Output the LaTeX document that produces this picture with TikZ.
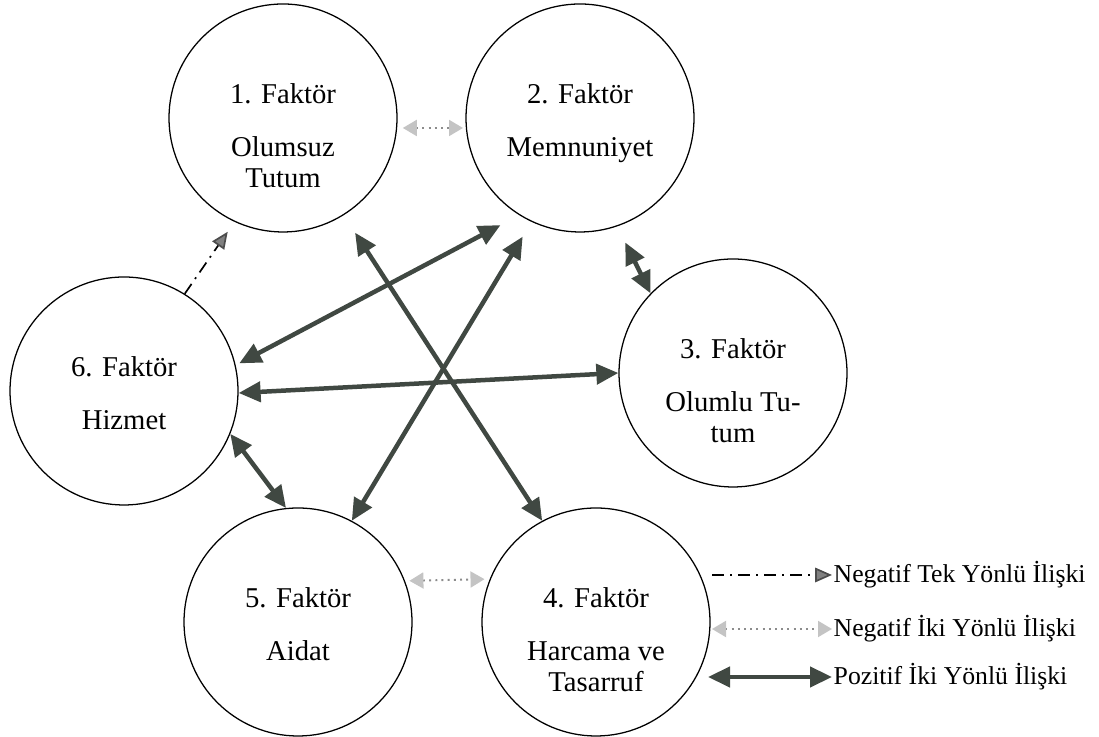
\documentclass[tikz,border=0pt]{standalone}
\usepackage{fontspec}
\setmainfont{Liberation Serif}
\usepackage{tikz}
\usetikzlibrary{arrows.meta,positioning}
\definecolor{pozgri}{RGB}{64,72,66}
\definecolor{neggri}{RGB}{196,196,196}
\definecolor{noktagri}{RGB}{140,140,140}
\tikzset{
    faktor/.style={draw, circle, minimum size=5.7cm, line width=0.9pt},
    ftext/.style={align=center, inner sep=0pt, font=\fontsize{20.4}{22}\selectfont},
    pozitif/.style={{Triangle[length=5.5mm, width=5mm]}-{Triangle[length=5.5mm, width=5mm]}, line width=3.2pt, pozgri},
    negatif/.style={{Triangle[length=3.5mm, width=4mm, fill=neggri, color=neggri]}-{Triangle[length=3.5mm, width=4mm, fill=neggri, color=neggri]}, line width=1.4pt, noktagri, dash pattern=on 1.4pt off 3pt},
    tekyon/.style={-{Triangle[length=4.2mm, width=3.6mm, fill=gray, color=black!70]}, line width=1.2pt, dash pattern=on 8.5pt off 4.3pt on 1.4pt off 4.3pt},
    legend/.style={anchor=west, inner sep=1pt, font=\fontsize{18.3}{20}\selectfont}
}
\begin{document}
\begin{tikzpicture}
\useasboundingbox (0,0) rectangle (27.475,18.425);
% faktorler
\node[faktor] (f1) at (7.075,15.475) {};
\node[faktor] (f2) at (14.5,15.475) {};
\node[faktor] (f3) at (18.325,9.1) {};
\node[faktor] (f4) at (14.9,2.875) {};
\node[faktor] (f5) at (7.45,2.875) {};
\node[faktor] (f6) at (3.1,8.65) {};
\node[ftext, below=2cm of f1.north] (t1) {1. Faktör\\[15.7pt]Olumsuz\\Tutum};
\node[ftext, below=2cm of f2.north] (t2) {2. Faktör\\[15.7pt]Memnuniyet};
\node[ftext, below=2cm of f3.north] (t3) {3. Faktör\\[15.7pt]Olumlu Tu-\\tum};
\node[ftext, below=2cm of f4.north] (t4) {4. Faktör\\[15.7pt]Harcama ve\\Tasarruf};
\node[ftext, below=2cm of f5.north] (t5) {5. Faktör\\[15.7pt]Aidat};
\node[ftext, below=2cm of f6.north] (t6) {6. Faktör\\[15.7pt]Hizmet};
% iliskiler
\draw[pozitif, shorten <=0.52cm] (f1.-58.7) -- (f4.118.2);
\draw[pozitif, shorten >=0.53cm, shorten <=0.1cm] (f6.13.6) -- (f2.238.3);
\draw[pozitif, shorten >=0.43cm] (f5.62.1) -- (f2.245.2);
\draw[pozitif] (f6.-1) -- (f3.180);
\draw[pozitif, shorten <=0.45cm] (f2.-71) -- (f3.136.8);
\draw[pozitif] (f6.-22.2) -- (f5.96);
\draw[negatif, shorten <=0.14cm, shorten >=0.07cm] (f1.-5.8) -- (f2.185.9);
\draw[negatif, shorten <=0.11cm, shorten >=0.13cm] (f5.21.8) -- (f4.158.4);
\draw[tekyon, shorten >=0.3cm] (f6.58.4) -- (f1.-115.3);
% lejant
\node[legend] (l1) at (20.8,4.05) {Negatif Tek Yönlü İlişki};
\node[legend] (l2) at (20.8,2.7) {Negatif İki Yönlü İlişki};
\node[legend] (l3) at (20.8,1.5) {Pozitif İki Yönlü İlişki};
\coordinate[left=3cm of l1.west] (l1s);
\coordinate[left=3cm of l2.west] (l2s);
\coordinate[left=3.1cm of l3.west] (l3s);
\draw[tekyon] (l1s) -- (l1.west);
\draw[negatif] (l2s) -- (l2.west);
\draw[pozitif] (l3s) -- (l3.west);
\end{tikzpicture}
\end{document}
